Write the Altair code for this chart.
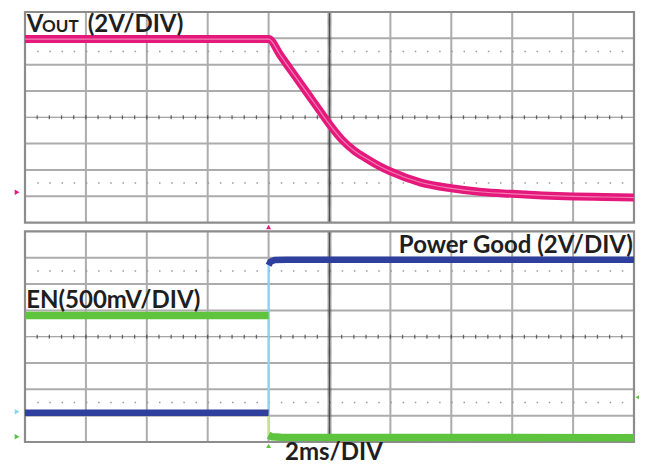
import altair as alt
import pandas as pd

# ---------------- data (oscilloscope divisions: time 0..10, volts 0..8 per panel) ----------------
vout_t = [0.0, 4.0, 4.2, 4.4, 4.6, 4.8, 5.0, 5.2, 5.4, 5.6, 5.8, 6.0, 6.5, 7.0, 7.5, 8.0, 8.5, 9.0, 9.5, 10.0]
vout_v = [6.97, 6.97, 6.33, 5.68, 5.03, 4.38, 3.73, 3.16, 2.74, 2.44, 2.17, 1.94, 1.52, 1.30, 1.16, 1.09, 1.03, 0.99, 0.97, 0.95]

pg_low_t = [0.0, 4.0]
pg_low_v = [1.11, 1.11]
pg_high_t = [4.0, 4.03, 4.1, 4.3, 10.0]
pg_high_v = [6.72, 6.85, 6.92, 6.93, 6.93]

en_high_t = [0.0, 4.0]
en_high_v = [4.81, 4.81]
en_low_t = [4.0, 4.05, 4.2, 10.0]
en_low_v = [0.26, 0.2, 0.18, 0.16]

edge_t = [4.0, 4.0]
pg_edge_v = [1.11, 6.74]
en_edge_v = [4.81, 0.18]

PINK = "#e5197c"
BLUE = "#2f3f9e"
GREEN = "#5ec43e"
CYAN = "#8ad4f2"
LGREEN = "#c5e58e"
GRID = "#acacac"
TXT = "#1e1e1e"
FONT = "Lato"

TOP = 8.34          # offset of the upper screen in the shared y scale
YMAX = 16.34

X = lambda f: alt.X(f, type="quantitative", scale=alt.Scale(domain=[0, 10]), axis=None)
Y = lambda f: alt.Y(f, type="quantitative", scale=alt.Scale(domain=[0, YMAX]), axis=None)


def grid_layers(off):
    vg = pd.DataFrame({"gx": [i for i in range(1, 10) if i != 5], "y0": off, "y1": off + 8})
    hg = pd.DataFrame({"gy": [off + i for i in range(1, 8) if i != 4], "x0": 0, "x1": 10})
    base_v = alt.Chart(vg).mark_rule(color=GRID, strokeWidth=2).encode(x=X("gx"), y=Y("y0"), y2="y1")
    base_h = alt.Chart(hg).mark_rule(color=GRID, strokeWidth=2).encode(y=Y("gy"), x=X("x0"), x2="x1")
    dots = alt.Chart(pd.DataFrame({"gy": [off + 1.5, off + 6.5], "x0": 0.2, "x1": 10})).mark_rule(
        color="#999999", strokeWidth=1.4, strokeDash=[1.5, 10.68]
    ).encode(y=Y("gy"), x=X("x0"), x2="x1")
    ch = alt.Chart(pd.DataFrame({"gy": [off + 4], "x0": 0, "x1": 10})).mark_rule(
        color="#8a8a8a", strokeWidth=1.2
    ).encode(y=Y("gy"), x=X("x0"), x2="x1")
    htick = alt.Chart(pd.DataFrame({"t": [i / 5 for i in range(1, 50)], "y": off + 4})).mark_tick(
        color="#333333", size=4, thickness=1.3, orient="vertical"
    ).encode(x=X("t"), y=Y("y"))
    cv = alt.Chart(pd.DataFrame({"gx": [5], "y0": off, "y1": off + 8})).mark_rule(
        color="#4a4a4a", strokeWidth=1.3
    ).encode(x=X("gx"), y=Y("y0"), y2="y1")
    vtick = alt.Chart(pd.DataFrame({"y": [off + i / 25 for i in range(1, 200)], "t": 5})).mark_tick(
        color="#555555", size=4, thickness=0.8, orient="horizontal"
    ).encode(x=X("t"), y=Y("y"))
    border = alt.Chart(pd.DataFrame({"a": [0], "b": [10], "c": [off], "d": [off + 8]})).mark_rect(
        fill=None, stroke="#8c8c8c", strokeWidth=2.2
    ).encode(x=X("a"), x2="b", y=Y("c"), y2="d")
    return [base_v, base_h, dots, ch, htick, cv, vtick, border]


def line(t, v, off, color, width, interp="linear"):
    df = pd.DataFrame({"t": t, "v": [off + x for x in v], "i": list(range(len(t)))})
    return alt.Chart(df).mark_line(
        color=color, strokeWidth=width, strokeCap="butt", strokeJoin="round", interpolate=interp
    ).encode(x=X("t"), y=Y("v"), order="i:Q")


def text(label, t, v, size, align="left"):
    return alt.Chart(pd.DataFrame({"t": [t], "v": [v], "s": [label]})).mark_text(
        align=align, baseline="alphabetic", fontSize=size, font=FONT, fontWeight="bold", color=TXT
    ).encode(x=X("t"), y=Y("v"), text="s:N")


def marker(t, v, shape, color, size=30):
    return alt.Chart(pd.DataFrame({"t": [t], "v": [v]})).mark_point(
        shape=shape, filled=True, color=color, size=size, opacity=1
    ).encode(x=X("t"), y=Y("v"))


layers = []
# upper screen: VOUT
layers += grid_layers(TOP)
layers += [
    line(vout_t, vout_v, TOP, PINK, 8, "monotone"),
    line(vout_t, vout_v, TOP, "#f27db2", 1.2, "monotone"),
    text("V", 0.03, TOP + 7.24, 24),
    text("OUT", 0.28, TOP + 7.24, 17),
    text("(2V/DIV)", 1.03, TOP + 7.24, 24),
    marker(-0.13, TOP + 1.15, "triangle-right", PINK),
    marker(4.0, TOP - 0.17, "triangle-up", PINK, 25),
]
# lower screen: EN and Power Good
layers += grid_layers(0)
layers += [
    line(edge_t, en_edge_v, 0, LGREEN, 1.5),
    line(edge_t, pg_edge_v, 0, CYAN, 1.5),
    line(en_high_t, en_high_v, 0, GREEN, 7.5),
    line(en_low_t, en_low_v, 0, GREEN, 7.5),
    line(pg_low_t, pg_low_v, 0, BLUE, 6.5),
    line(pg_high_t, pg_high_v, 0, BLUE, 6.5),
    text("EN(500mV/DIV)", 0.02, 5.08, 24),
    text("Power Good (2V/DIV)", 9.98, 7.2, 24, align="right"),
    text("2ms/DIV", 4.27, -0.68, 24),
    marker(-0.13, 1.15, "triangle-right", CYAN),
    marker(-0.13, 0.2, "triangle-right", GREEN),
    marker(10.06, 1.7, "triangle-left", GREEN, 25),
    marker(4.0, -0.15, "triangle-up", GREEN, 25),
]

chart = alt.layer(*layers).properties(
    width=609,
    height=430,
    padding={"left": 17, "top": 4, "right": 5, "bottom": 24},
    autosize=alt.AutoSizeParams(type="none"),
    background="white",
).configure_view(stroke=None)

chart.save("out.html", embed_options={"renderer": "svg", "actions": False})
